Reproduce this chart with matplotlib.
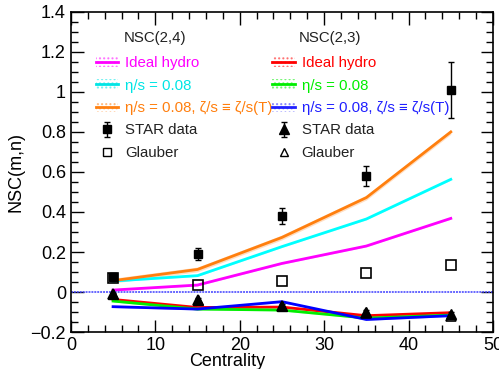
import numpy as np
import matplotlib.pyplot as plt
from matplotlib.lines import Line2D
from matplotlib.patches import Patch
from matplotlib.ticker import MultipleLocator

plt.rcParams['font.family'] = ['Liberation Sans', 'DejaVu Sans']

cent = [5, 15, 25, 35, 45]

# NSC(2,4) hydro
ideal_24 = [0.01, 0.035, 0.143, 0.23, 0.368]
visc_24 = [0.055, 0.082, 0.227, 0.365, 0.563]
bulk_24 = [0.057, 0.113, 0.273, 0.472, 0.80]
# NSC(2,3) hydro
ideal_23 = [-0.037, -0.077, -0.075, -0.118, -0.103]
visc_23 = [-0.045, -0.085, -0.09, -0.13, -0.115]
bulk_23 = [-0.073, -0.085, -0.048, -0.137, -0.118]

star_24 = [0.075, 0.19, 0.38, 0.58, 1.01]
star_24_err = [0.02, 0.03, 0.04, 0.05, 0.14]
glau_24 = [0.07, 0.035, 0.057, 0.093, 0.135]
star_23 = [-0.01, -0.04, -0.068, -0.10, -0.112]
star_23_err = [0.005, 0.008, 0.008, 0.01, 0.012]
glau_23 = [-0.01, -0.04, -0.07, -0.105, -0.122]

fig = plt.figure(figsize=(4.99, 3.69), dpi=100)
ax = fig.add_axes([0.142, 0.10, 0.846, 0.868])

def band(y, c, w):
    y = np.array(y)
    ax.fill_between(cent, y - w, y + w, color=c, alpha=0.25, lw=0)
    ax.plot(cent, y, color=c, lw=2)

band(ideal_24, '#ff00ff', 0.004)
band(visc_24, '#00ffff', 0.004)
band(bulk_24, '#ff7f0e', 0.012)
band(ideal_23, '#ff0000', 0.004)
band(visc_23, '#00ee00', 0.004)
band(bulk_23, '#0000ff', 0.004)

ax.axhline(0, color='#4040ff', lw=1.4, ls=(0, (1, 0.5)), alpha=0.8)

e24 = ax.errorbar(cent, star_24, yerr=star_24_err, fmt='s', color='black', ms=6, capsize=2, elinewidth=1)
ax.plot(cent, glau_24, 's', mfc='none', mec='black', ms=7, mew=1.2)
e23 = ax.errorbar(cent, star_23, yerr=star_23_err, fmt='^', color='black', ms=7, capsize=2, elinewidth=1)
ax.plot(cent, glau_23, '^', mfc='none', mec='black', ms=7, mew=1.2)

ax.set_xlim(0, 50)
ax.set_ylim(-0.2, 1.4)
ax.xaxis.set_major_locator(MultipleLocator(10))
ax.xaxis.set_minor_locator(MultipleLocator(2))
ax.yaxis.set_major_locator(MultipleLocator(0.2))
ax.yaxis.set_minor_locator(MultipleLocator(0.05))
ax.tick_params(which='both', direction='in', top=True, right=True, labelsize=13)
ax.tick_params(which='major', length=9, width=1)
ax.tick_params(which='minor', length=5, width=1)
for s in ax.spines.values():
    s.set_linewidth(1.2)
ax.set_yticks([-0.2, 0, 0.2, 0.4, 0.6, 0.8, 1, 1.2, 1.4])
ax.set_yticklabels(['\u22120.2', '0', '0.2', '0.4', '0.6', '0.8', '1', '1.2', '1.4'])
ax.set_xlabel('Centrality', fontsize=13, labelpad=-1, x=0.37)
ax.set_ylabel('NSC(m,n)', fontsize=13, labelpad=4)

def hyd(c):
    return (Patch(facecolor='none', edgecolor=c, hatch='....', lw=0, alpha=0.5),
            Line2D([], [], color=c, lw=2))

def leg(cols, labels, data, glyph, x):
    h = [hyd(c) for c in cols]
    h.append(data)
    h.append(Line2D([], [], marker=glyph, mfc='none', mec='black', ls='none', ms=6))
    lg = ax.legend(h, labels, loc='upper left', bbox_to_anchor=(x, 0.88),
                   frameon=False, fontsize=10.8, handlelength=1.5,
                   handletextpad=0.45, labelspacing=0.56, borderaxespad=0,
                   labelcolor=cols + ['#222222', '#222222'])
    return lg

lbls = ['Ideal hydro', '\u03b7/s = 0.08', '\u03b7/s = 0.08, \u03b6/s \u2261 \u03b6/s(T)', 'STAR data', 'Glauber']
l1 = leg(['#ff00ff', '#00e5e5', '#ff7f0e'], lbls, e24, 's', 0.045)
ax.add_artist(l1)
l2 = leg(['#ff0000', '#00ee00', '#2020ff'], lbls, e23, '^', 0.463)
ax.text(0.125, 0.918, 'NSC(2,4)', transform=ax.transAxes, fontsize=10.8, color='#222222', va='center')
ax.text(0.54, 0.918, 'NSC(2,3)', transform=ax.transAxes, fontsize=10.8, color='#222222', va='center')

fig.savefig('out.png', dpi=100)
